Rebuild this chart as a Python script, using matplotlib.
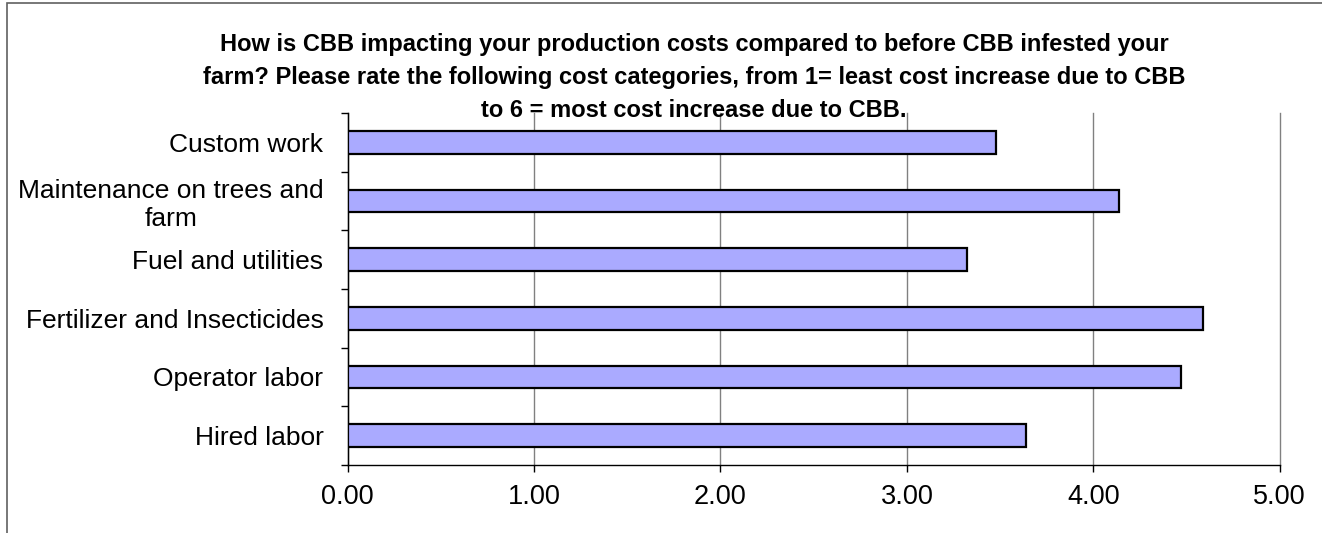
import numpy as np
import matplotlib
matplotlib.use("Agg")
import matplotlib.pyplot as plt
from matplotlib.patches import Rectangle

plt.rcParams['font.family'] = ['Liberation Sans', 'DejaVu Sans']

# Data (bottom to top)
categories = ['Hired labor', 'Operator labor', 'Fertilizer and Insecticides',
              'Fuel and utilities', 'Maintenance on trees and\nfarm', 'Custom work']
scores = [3.64, 4.47, 4.59, 3.32, 4.14, 3.48]
x_ticks = [0, 1, 2, 3, 4, 5]
title_lines = [
    'How is CBB impacting your production costs compared to before CBB infested your',
    'farm? Please rate the following cost categories, from 1= least cost increase due to CBB',
    'to 6 = most cost increase due to CBB.',
]

fig = plt.figure(figsize=(13.22, 5.33), dpi=100)
ax = fig.add_axes([0.263, 0.1276, 0.705, 0.6604])

y = np.arange(len(categories))
ax.barh(y, scores, height=0.39, color='#AAAAFF', edgecolor='black', linewidth=1.6, zorder=3)

ax.set_xlim(0, 5)
ax.set_ylim(-0.5, len(categories) - 0.5)
ax.set_xticks(x_ticks)
ax.set_xticklabels([f'{v:.2f}' for v in x_ticks], fontsize=19.5)
ax.set_yticks(y)
ax.set_yticklabels(categories, fontsize=19, multialignment='center', linespacing=1.2)
ax.set_yticks(np.arange(-0.5, len(categories)), minor=True)
ax.tick_params(axis='y', which='major', length=0, pad=17.5)
ax.tick_params(axis='y', which='minor', length=5, width=1, color='black')
ax.tick_params(axis='x', length=5, width=1, color='black', pad=9)
ax.grid(axis='x', color='#808080', linewidth=1, zorder=0)
for gl in ax.get_xgridlines():
    gl.set_clip_on(False)

for side in ['top', 'right']:
    ax.spines[side].set_visible(False)
for side in ['left', 'bottom']:
    ax.spines[side].set_color('black')
    ax.spines[side].set_linewidth(1)

# title lines (baselines)
title_y = [1 - 51 / 533, 1 - 84 / 533, 1 - 117 / 533]
for line, ty in zip(title_lines, title_y):
    fig.text(694 / 1322, ty, line, ha='center', va='baseline', fontsize=17, fontweight='bold')

# outer frame
fig.patches.append(Rectangle((7 / 1322, -0.1), 2, 1.1 - 3 / 533, transform=fig.transFigure,
                             fill=False, edgecolor='#606060', linewidth=1.2))

fig.savefig('out.png', dpi=100)
